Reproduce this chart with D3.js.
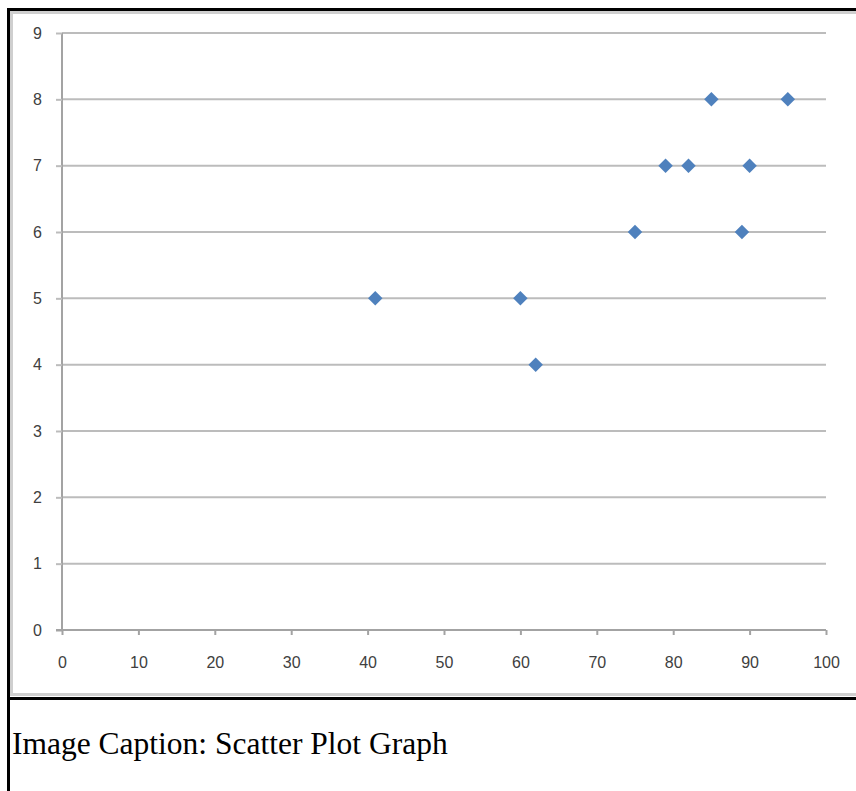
<!DOCTYPE html>
<html>
<head>
<meta charset="utf-8">
<script src="https://cdn.jsdelivr.net/npm/d3@7"></script>
<style>
  body { margin: 0; background: #fff; }
  svg { display: block; }
</style>
</head>
<body>
<svg id="chart"></svg>
<script>
const xValues = [41, 60, 62, 75, 79, 82, 85, 89, 90, 95];
const yValues = [5, 5, 4, 6, 7, 7, 8, 6, 7, 8];
const xTicks = [0, 10, 20, 30, 40, 50, 60, 70, 80, 90, 100];
const yTicks = [0, 1, 2, 3, 4, 5, 6, 7, 8, 9];
const caption = "Image Caption: Scatter Plot Graph";

const width = 856;
const height = 791;
const gridColor = "#bcbcbc";
const axisColor = "#a3a3a3";
const labelColor = "#404040";
const markColor = "#4f81bd";

const svg = d3.select("#chart")
  .attr("width", width)
  .attr("height", height);

svg.append("rect")
  .attr("width", width)
  .attr("height", height)
  .attr("fill", "#fff");

const xScale = d3.scaleLinear()
  .domain([0, 100])
  .range([62, 826]);

const yScale = d3.scaleLinear()
  .domain([0, 9])
  .range([630, 33]);

// light frame of the chart picture
svg.append("rect")
  .attr("x", 11.5)
  .attr("y", 12.5)
  .attr("width", 900)
  .attr("height", 682)
  .attr("fill", "none")
  .attr("stroke", "#cfcfcf")
  .attr("stroke-width", 3);

// horizontal grid lines
svg.selectAll(".y-grid-line")
  .data(yTicks.filter(d => d > 0))
  .enter().append("line")
  .attr("class", "y-grid-line")
  .attr("x1", xScale(0))
  .attr("x2", xScale(100))
  .attr("y1", d => yScale(d))
  .attr("y2", d => yScale(d))
  .attr("stroke", gridColor)
  .attr("stroke-width", 2);

const yAxis = svg.append("g")
  .attr("transform", `translate(${xScale(0)}, 0)`)
  .call(d3.axisLeft(yScale).tickValues(yTicks).tickSize(6).tickPadding(14));

const xAxis = svg.append("g")
  .attr("transform", `translate(0, ${yScale(0)})`)
  .call(d3.axisBottom(xScale).tickValues(xTicks).tickSize(5).tickPadding(22));

[xAxis, yAxis].map((axis) => {
  axis.select(".domain")
    .attr("stroke", axisColor)
    .attr("stroke-width", 2);

  axis.selectAll(".tick line")
    .attr("stroke", axisColor)
    .attr("stroke-width", 2);

  axis.selectAll(".tick text")
    .attr("fill", labelColor)
    .style("font-family", "'Liberation Sans', Arial, sans-serif")
    .style("font-size", "16px");
});

// y tick marks sit on the grid colour
yAxis.selectAll(".tick line")
  .attr("stroke", d => d === 0 ? axisColor : gridColor);

yAxis.select(".domain").attr("d", `M0,${yScale(9)}V${yScale(0)}`);
xAxis.select(".domain").attr("d", `M${xScale(0) - 6},0H${xScale(100)}`);

// markers
const diamond = d3.symbol().type(d3.symbolSquare).size(105);

svg.selectAll(".point")
  .data(xValues.map((x, i) => ({ x: x, y: yValues[i] })))
  .enter().append("path")
  .attr("class", "point")
  .attr("d", diamond)
  .attr("transform", d => `translate(${xScale(d.x)}, ${yScale(d.y)}) rotate(45)`)
  .attr("fill", markColor);

// black page borders
svg.append("rect").attr("x", 7).attr("y", 8).attr("width", width - 7).attr("height", 3).attr("fill", "#000");
svg.append("rect").attr("x", 7).attr("y", 8).attr("width", 3).attr("height", height - 8).attr("fill", "#000");
svg.append("rect").attr("x", 7).attr("y", 697).attr("width", width - 7).attr("height", 3).attr("fill", "#000");

svg.append("text")
  .attr("x", 12)
  .attr("y", 754)
  .attr("fill", "#000")
  .style("font-family", "'Liberation Serif', 'Times New Roman', serif")
  .style("font-size", "31.5px")
  .text(caption);
</script>
</body>
</html>
